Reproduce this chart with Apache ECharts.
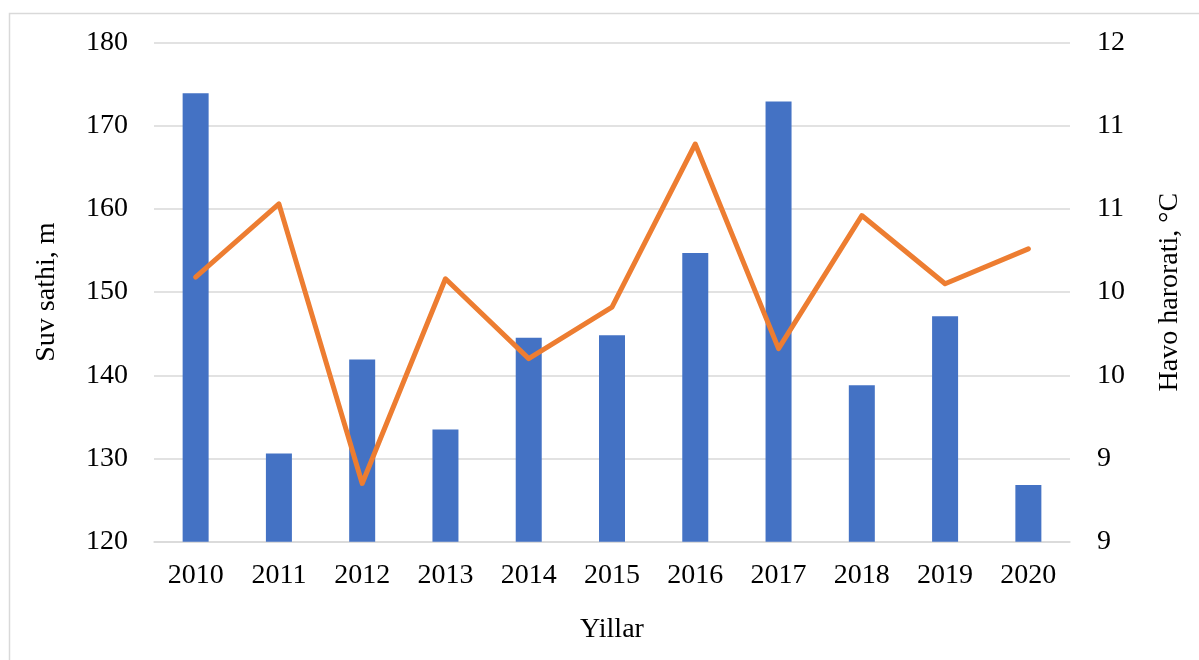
<!DOCTYPE html>
<html>
<head>
<meta charset="utf-8">
<script src="https://cdn.jsdelivr.net/npm/echarts@6/dist/echarts.min.js"></script>
<style>
  html, body { margin: 0; padding: 0; background: #fff; }
  #chart { width: 1199px; height: 660px; }
</style>
</head>
<body>
<div id="chart"></div>
<script>
const years = ['2010', '2011', '2012', '2013', '2014', '2015', '2016', '2017', '2018', '2019', '2020'];
const waterLevel = [173.9, 130.6, 141.9, 133.5, 144.5, 144.8, 154.7, 172.9, 138.8, 147.1, 126.8];
const airTemp = [10.59, 11.03, 9.35, 10.58, 10.10, 10.41, 11.39, 10.16, 10.96, 10.55, 10.76];

const font = '"Liberation Serif", "Times New Roman", serif';
const gridColor = '#d9d9d9';

const chart = echarts.init(document.getElementById('chart'), null, { renderer: 'canvas' });

chart.setOption({
  backgroundColor: '#fff',
  animation: false,
  textStyle: { fontFamily: font },
  grid: { left: 154, right: 129, top: 42.5, bottom: 118.3 },
  graphic: [
    {
      type: 'rect',
      shape: { x: 9.5, y: 13.5, width: 1200, height: 700 },
      style: { fill: 'none', stroke: gridColor, lineWidth: 1.5 },
      silent: true,
    },
  ],
  xAxis: {
    type: 'category',
    data: years,
    name: 'Yillar',
    nameLocation: 'middle',
    nameGap: 74,
    nameTextStyle: { fontFamily: font, fontSize: 28, color: '#000' },
    axisLine: { lineStyle: { color: gridColor, width: 1.5 } },
    axisTick: { show: false },
    axisLabel: { fontFamily: font, fontSize: 28, color: '#000', margin: 20 },
  },
  yAxis: [
    {
      type: 'value',
      min: 120,
      max: 180,
      interval: 10,
      name: 'Suv sathi, m',
      nameLocation: 'middle',
      nameGap: 93,
      nameTextStyle: { fontFamily: font, fontSize: 28, color: '#000' },
      axisLine: { show: false },
      axisTick: { show: false },
      axisLabel: { fontFamily: font, fontSize: 28, color: '#000', margin: 26 },
      splitLine: { lineStyle: { color: gridColor, width: 1.5 } },
    },
    {
      type: 'value',
      min: 9,
      max: 12,
      interval: 0.5,
      name: 'Havo harorati, °C',
      nameLocation: 'middle',
      nameGap: 86,
      nameTextStyle: { fontFamily: font, fontSize: 28, color: '#000' },
      axisLine: { show: false },
      axisTick: { show: false },
      axisLabel: {
        fontFamily: font,
        fontSize: 28,
        color: '#000',
        margin: 27,
        formatter: (v) => String(Math.floor(v)),
      },
      splitLine: { show: false },
    },
  ],
  series: [
    {
      name: 'Suv sathi',
      type: 'bar',
      yAxisIndex: 0,
      data: waterLevel,
      barWidth: 26,
      itemStyle: { color: '#4472c4' },
    },
    {
      name: 'Havo harorati',
      type: 'line',
      yAxisIndex: 1,
      data: airTemp,
      showSymbol: false,
      symbol: 'none',
      lineStyle: { color: '#ed7d31', width: 5, join: 'round', cap: 'round' },
      z: 5,
    },
  ],
});

window.addEventListener('resize', () => chart.resize());
</script>
</body>
</html>
